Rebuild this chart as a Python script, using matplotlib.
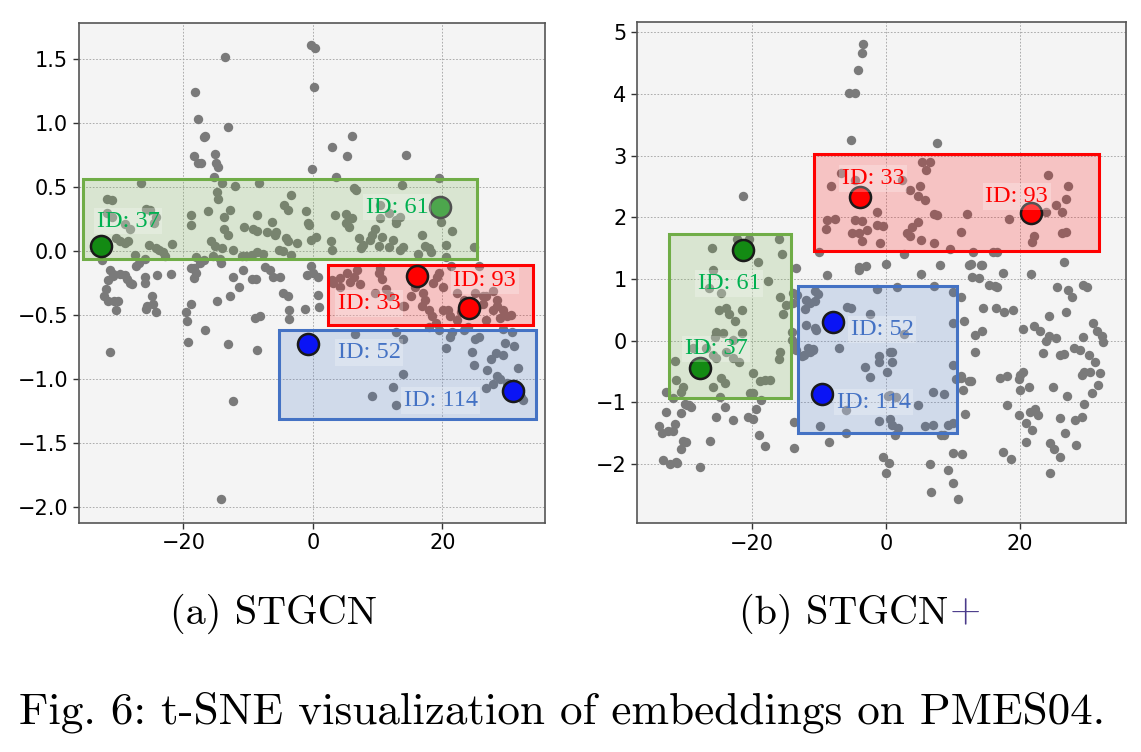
import matplotlib
matplotlib.use('Agg')
import matplotlib.pyplot as plt
from matplotlib.patches import Rectangle

# ---------------- (a) STGCN ----------------
a_x = [-13.6, -0.3, 0.3, 0.1, -18.2, -17.7, -16.9, -16.7, -13.2, -18.4, -17.7, -17.3, -15.2, -15.0, -14.6, -15.3,
       -0.2, 2.9, 6.0, 5.3, 3.5, 14.3, 19.5, -26.5, -14.0, -12.1, -8.3, 6.3, 6.6, 13.7, -31.8, -31.1, -14.8, -14.6,
       -3.4, -4.4, -3.9, -12.8, -16.2, -18.9, -18.9, -13.7, -8.7, -6.3, -1.1, -0.8, -0.6, 3.4, 5.1, 5.5, 6.0, 5.1,
       5.6, 10.4, 10.4, 11.8, 12.9, 13.4, 12.8, 19.8, 21.5, -25.8, -25.2, -24.6, -24.3, -29.0, -28.2, -31.8, -31.0,
       -10.7, -13.7, -13.2, -9.3, -8.7, -7.1, -5.7, -5.8, -4.1, -3.9, -2.5, -0.3, 0.4, 2.8, 3.0, 7.1, 7.7, 7.4, 9.1,
       9.6, 8.8, 10.7, 10.2, 12.3, 11.7, 13.9, 13.5, 16.8, 16.2, 17.3, 17.9, 18.3, 20.5, 24.9, 20.6, 21.3, 25.6,
       -30.4, -29.8, -29.0, -28.6, -25.3, -24.3, -23.8, -23.1, -22.8, -21.8, -27.5, -26.0, -32.6, -15.8, -15.2,
       -14.1, -15.4, -18.1, -17.4, -16.9, -12.4, -11.0, -10.3, -9.4, -8.6, -7.7, -5.3, -4.7, -3.4,
       -31.4, -30.9, -31.7, -30.9, -29.8, -29.1, -28.8, -28.3, -27.9, -32.0, -32.2, -31.7, -30.7, -30.1, -30.5,
       -27.3, -26.8, -25.9, -25.9, -24.1, -22.0, -24.8, -24.7, -25.6, -25.8, -24.3, -18.9, -18.4, -18.4, -18.1,
       -18.9, -19.6, -19.5, -14.4, -14.2, -12.4, -10.8, -12.8, -11.4, -14.8, -8.8, -7.4, -6.7, -6.1, -5.1, -4.6,
       -3.8, -8.9, -8.2, -9.4,
       -31.3, -19.3, -16.6, -13.1, -12.4, -14.2, -8.6, -3.7, -3.7, -1.3, 0.7, 0.9, -0.9, 0.0, 0.7, -0.3,
       6.5, 12.8, 13.9, 13.9, 12.3, 9.1, 12.8,
       3.0, 4.1, 5.2, 5.7, 6.3, 6.8, 4.2, 3.1, 7.3, 10.2, 10.7, 11.3, 9.6, 10.3, 11.9, 13.9, 14.0, 15.1, 15.7,
       16.5, 17.0, 17.3, 16.8, 17.9, 18.4, 19.0, 19.5, 20.1, 20.9, 21.2, 22.3, 22.8, 23.4, 20.1, 18.6, 19.1,
       22.2, 23.2, 25.3, 26.3, 28.4, 29.4, 25.1, 26.2, 26.7, 27.8, 28.9, 30.0, 30.6, 27.8, 28.4, 26.7,
       23.9, 25.6, 25.1, 20.6, 21.2, 21.5, 24.6, 24.8, 26.9, 27.5, 28.3, 29.4, 29.7, 31.1, 31.6, 29.4, 30.8,
       28.4, 28.9, 30.0, 31.1, 31.9, 32.2, 32.5, 26.7, 27.8, 19.5, 17.9, 23.4]
a_y = [1.52, 1.61, 1.59, 1.28, 1.24, 1.03, 0.89, 0.90, 0.97, 0.74, 0.69, 0.69, 0.755, 0.69, 0.66, 0.58,
       0.64, 0.815, 0.90, 0.74, 0.58, 0.75, 0.57, 0.53, 0.53, 0.51, 0.53, 0.49, 0.48, 0.52, 0.41, 0.40, 0.46, 0.41,
       0.44, 0.36, 0.32, 0.32, 0.31, 0.28, 0.20, 0.27, 0.28, 0.23, 0.31, 0.22, 0.20, 0.28, 0.29, 0.25, 0.26, 0.22,
       0.19, 0.36, 0.26, 0.30, 0.245, 0.27, 0.22, 0.23, 0.16, 0.33, 0.32, 0.22, 0.27, 0.21, 0.17, 0.30, 0.27,
       0.19, 0.17, 0.125, 0.17, 0.16, 0.15, 0.15, 0.125, 0.10, 0.08, 0.06, 0.09, 0.11, 0.08, 0.01, 0.10, 0.05, 0.02, 0.125,
       0.17, 0.09, 0.11, 0.04, 0.09, 0.03, 0.03, 0.01, 0.125, -0.02, 0.04, 0.02, -0.01, 0.05, 0.03, -0.05, -0.12, -0.12,
       0.10, 0.08, 0.06, 0.08, 0.05, 0.02, 0.005, -0.01, -0.04, 0.055, -0.03, -0.06, -0.07, 0.08, 0.04,
       0.02, -0.04, -0.05, -0.09, -0.07, 0.005, -0.04, -0.04, -0.03, -0.01, -0.02, 0.01, 0.0, -0.03,
       -0.146, -0.198, -0.23, -0.18, -0.18, -0.19, -0.22, -0.25, -0.255, -0.30, -0.355, -0.39, -0.39, -0.39, -0.46,
       -0.12, -0.09, -0.20, -0.25, -0.19, -0.18, -0.355, -0.41, -0.43, -0.45, -0.48, -0.13, -0.13, -0.21, -0.17,
       -0.41, -0.48, -0.55, -0.06, -0.09, -0.20, -0.15, -0.355, -0.28, -0.39, -0.22, -0.125, -0.146, -0.20, -0.20, -0.33,
       -0.35, -0.52, -0.51, -0.22,
       -0.79, -0.71, -0.62, -0.73, -1.17, -1.94, -0.77, -0.46, -0.53, -0.45, -0.34, -0.44, -0.185, -0.17, -0.20, -0.12,
       -0.65, -0.636, -0.69, -0.96, -1.065, -1.13, -1.20,
       -0.225, -0.21, -0.17, -0.24, -0.20, -0.146, -0.28, -0.25, -0.26, -0.17, -0.22, -0.30, -0.33, -0.13, -0.35, -0.43, -0.43, -0.35, -0.28,
       -0.22, -0.33, -0.38, -0.43, -0.46, -0.51, -0.56, -0.17, -0.28, -0.46, -0.51, -0.54, -0.48, -0.38, -0.46, -0.25, -0.20,
       -0.33, -0.41, -0.43, -0.355, -0.43, -0.46, -0.33, -0.41, -0.54, -0.46, -0.52, -0.51, -0.50, -0.31, -0.38, -0.35,
       -0.59, -0.67, -0.69, -0.76, -0.67, -0.63, -0.79, -0.89, -0.93, -0.84, -0.80, -0.81, -0.72, -0.745, -0.91, -0.61, -0.63,
       -0.98, -1.0, -1.03, -1.04, -1.08, -1.14, -1.16, -1.07, -1.04, -0.615, -0.59, -0.615]

a_ids = ['ID: 37', 'ID: 61', 'ID: 33', 'ID: 93', 'ID: 52', 'ID: 114']
a_hx = [-32.8, 19.6, 16.1, 24.1, -0.8, 30.85]
a_hy = [0.04, 0.344, -0.193, -0.445, -0.724, -1.097]
a_lx = [-33.4, 8.2, 3.8, 21.7, 3.8, 14.0]
a_ly = [0.19, 0.30, -0.453, -0.276, -0.836, -1.21]
a_boxes = [(-35.5, -0.0625, 25.4, 0.5625), (2.3, -0.576, 34.05, -0.107), (-5.3, -1.31, 34.5, -0.615)]

# ---------------- (b) STGCN+ ----------------
b_x = [-3.4, -3.6, -4.2, -5.6, -4.6, -5.2, 7.6, -21.4, 5.4, 6.6, 5.9, -6.8, -4.6, -8.2, 2.3, 3.6, 5.1, 4.7, 5.8,
       -1.3, 7.1, 7.6, 12.0, 18.3, -8.8, -7.7, -4.7, -3.6, -9.0, -0.5, -2.9, -5.1, -4.1, -3.6, -0.9, 4.7, 3.9, 3.1,
       3.6, 5.2, 7.1, 11.1, 24.2, 27.1, 26.8, 25.4, 23.9, 26.2, 22.0, 21.7, 26.2, 26.9, 26.5,
       -10.1, 2.6, 9.5, 13.0, 15.9, 16.6, -0.1, 8.1, 12.3, 14.1, -4.1, -3.0, -1.4,
       -26.0, -22.2, -20.5, -19.2, -16.0, -15.6, -13.4, -25.9, -26.4, -24.6, -17.6, -15.9, -14.9, -15.4, -8.9, -4.0,
       -13.9, -24.9, -23.9, -23.4, -22.6, -21.5, -25.4, -24.4, -25.6, -21.5, -22.9, -26.9, -25.9, -25.4, -23.9,
       -22.9, -21.9, -28.9, -31.6, -31.4, -30.3, -25.9, -24.6, -24.1, -19.9, -18.9, -18.1, -17.4, -15.9, -16.0,
       -13.3, -13.9, -11.9, -11.4, -10.7, -10.2, -10.6, -14.0, -13.7, -13.4, -12.6, -19.9,
       -12.1, -10.5, -11.0, -11.3, -7.0, -11.9, -10.7, -14.1, -11.7, -10.9, -12.3, -5.9, -5.3,
       -1.4, 1.65, 7.1, 10.0, 11.1, 10.0, 11.6, -2.4, 2.6, -1.0, -1.0, 0.8, 0.6, -3.1, -2.4, 0.05, 10.0, 10.4,
       11.2, 12.4, 11.4, 7.0, 8.7, 4.7, 0.3, -6.0, -1.0, 0.6, 0.8, 1.8, -9.9, -6.0, -8.6, -13.7, -13.7, 5.8, 7.0,
       9.2, 10.0, 8.2, 8.7, 11.8, -0.5, 0.4, -0.1, 6.5, 9.2, 10.0, 10.7, 6.7, 10.0, 11.3, 0.85, 1.5, 0.55, 1.3,
       -32.9, -31.8, -30.6, -29.8, -29.2, -32.9, -30.6, -31.6, -33.9, -33.4, -32.6, -31.8, -30.3, -29.9, -30.7,
       -33.3, -32.3, -31.4, -31.2, -27.8, -26.3, -25.4, -24.1, -24.8, -20.4, -22.9, -20.6, -19.9, -19.4, -18.7,
       -19.0, -18.1, -30.0, -29.4,
       12.6, 14.3, 12.8, 13.9, 17.4, 21.6, 5.2, 15.3, 16.3, 16.6, 25.5, 27.1, 27.8, 29.4, 30.0, 14.5, 16.4, 17.6,
       18.9, 24.3, 26.8, 20.4, 22.0, 23.0, 23.8, 24.3, 25.3, 26.0, 26.6, 13.3, 14.3, 13.2, 28.0, 29.0, 29.6, 30.5,
       29.3, 29.4, 11.1, 12.6, 17.0, 18.0, 20.0, 20.4, 19.8, 21.3, 20.0, 24.9, 27.0, 23.4,
       30.8, 31.4, 32.2, 32.4, 30.3, 31.1, 31.9, 31.6, 30.7, 29.6,
       18.0, 19.9, 20.9, 21.7, 20.9, 21.4, 22.2, 22.7, 17.5, 18.6, 24.4, 25.1, 25.9, 24.5, 25.9, 26.7, 28.2, 28.4, 29.2]
b_y = [4.81, 4.67, 4.38, 4.02, 4.02, 3.26, 3.20, 2.35, 2.90, 2.90, 2.76, 2.72, 2.60, 2.51, 2.60, 2.45, 2.51, 2.345, 2.28,
       2.08, 2.05, 2.04, 2.05, 1.97, 1.96, 1.97, 1.96, 1.94, 1.81, 1.86, 1.79, 1.75, 1.74, 1.62, 1.58, 1.93, 1.84, 1.74,
       1.70, 1.63, 1.59, 1.76, 2.69, 2.51, 2.29, 2.20, 2.08, 2.08, 1.69, 1.60, 1.75, 1.76, 1.27,
       1.43, 1.405, 1.48, 1.43, 1.44, 1.44, 1.24, 1.22, 1.23, 1.22, 1.19, 1.21, 1.875,
       1.51, 1.65, 1.64, 1.28, 1.65, 1.41, 1.17, 1.15, 0.85, 0.78, 0.97, 0.71, 0.58, 0.44, 1.065, 1.15,
       0.77, 0.50, 0.525, 0.43, 0.32, 0.50, 0.146, 0.12, 0.065, 0.12, 0.01, -0.12, -0.23, -0.285, -0.18,
       -0.285, -0.34, -0.12, -0.33, -0.64, -0.745, -0.745, -0.61, -0.69, -0.53, -0.66, -0.64, -0.64, -0.18, -0.30,
       0.74, 0.61, 0.66, 0.61, 0.64, 0.75, 0.805, 0.146, -0.07, -0.15, -0.25, -0.85,
       0.51, 0.17, -0.14, -0.18, -0.12, 0.25, 0.20, 0.01, -0.12, -0.15, -0.23, 0.55, 0.525,
       0.84, 0.87, 0.88, 0.79, 0.70, 0.29, 0.32, 0.44, 0.11, -0.25, -0.345, -0.345, -0.18, -0.43, -0.59, -0.50, -0.39, -0.62,
       -0.61, -0.66, -0.80, -0.83, -0.87, -1.05, -0.89, -1.13, -1.30, -1.27, -1.36, -1.42, -1.38, -1.49, -1.65, -1.32, -1.74, -1.38, -1.37,
       -1.37, -1.34, -1.53, -1.53, -1.19, -1.88, -1.99, -2.15, -2.0, -2.10, -2.30, -2.57, -2.46, -1.82, -1.84, -0.19, -0.91, -0.88, -1.53,
       -0.83, -0.93, -0.83, -1.04, -1.08, -1.15, -1.18, -1.35, -1.38, -1.50, -1.47, -1.47, -1.62, -1.64, -1.76,
       -1.93, -2.0, -1.96, -1.98, -2.05, -1.62, -1.24, -1.08, -0.91, -0.85, -1.28, -1.23, -1.27, -1.10, -0.96,
       -1.53, -1.71, -1.02, -1.04,
       1.25, 1.23, 1.04, 1.01, 1.09, 1.08, 1.075, 0.91, 0.89, 0.875, 0.875, 0.82, 0.71, 0.90, 0.875, 0.525, 0.535, 0.47,
       0.50, 0.405, 0.46, 0.19, 0.24, 0.16, 0.0, 0.08, 0.05, -0.23, -0.22, 0.09, 0.16, -0.18, -0.12, -0.15, -0.50, -0.50,
       -0.56, 0.065, -0.58, -0.66, -0.60, -0.58, -0.56, -0.51, -0.62, -0.745, -0.80, -0.745, -0.89, -0.20,
       0.29, 0.16, 0.075, -0.02, -0.23, -0.34, -0.52, -0.72, -0.85, -1.03,
       -1.04, -1.20, -1.34, -1.44, -1.65, -1.15, -1.10, -1.20, -1.81, -1.91, -1.66, -1.76, -1.89, -2.15, -1.26, -1.50, -1.29, -1.69, -1.23]

b_ids = ['ID: 37', 'ID: 61', 'ID: 33', 'ID: 93', 'ID: 52', 'ID: 114']
b_hx = [-27.75, -21.4, -3.84, 21.6, -7.92, -9.55]
b_hy = [-0.447, 1.465, 2.334, 2.065, 0.298, -0.864]
b_lx = [-30.1, -28.1, -6.6, 14.8, -5.3, -7.4]
b_ly = [-0.22, 0.84, 2.54, 2.25, 0.09, -1.085]
b_boxes = [(-32.4, -0.93, -14.2, 1.73), (-10.8, 1.46, 31.7, 3.02), (-13.1, -1.49, 10.6, 0.887)]

box_colors = ['#70ad47', '#ff0000', '#4472c4']
text_colors = ['#00b050', '#00b050', '#ff0000', '#ff0000', '#4472c4', '#4472c4']
point_colors = ['#138a13', '#138a13', '#ff0000', '#ff0000', '#0a14f5', '#0a14f5']


def draw_panel(ax, px, py, hx, hy, ids, lx, ly, boxes, xlim, ylim, yticks, light61=False):
    ax.set_facecolor('#f4f4f4')
    ax.grid(True, color='#a0a0a0', linestyle='--', linewidth=0.6, dashes=(2, 2))
    ax.set_axisbelow(True)
    ax.scatter(px, py, s=46, color='#7a7a7a', linewidths=0, zorder=2)
    for (x0, y0, x1, y1), c in zip(boxes, box_colors):
        ax.add_patch(Rectangle((x0, y0), x1 - x0, y1 - y0, facecolor=c, alpha=0.2,
                               edgecolor='none', zorder=3))
        ax.add_patch(Rectangle((x0, y0), x1 - x0, y1 - y0, facecolor='none',
                               edgecolor=c, linewidth=2.2, zorder=4))
    for i in range(len(ids)):
        fc, ec = point_colors[i], '#1a1a1a'
        if light61 and ids[i] == 'ID: 61':
            fc, ec = '#4da64d', '#505050'
        ax.scatter(hx[i], hy[i], s=230, color=fc, edgecolors=ec, linewidths=1.8, zorder=6)
        ax.text(lx[i], ly[i], ids[i], color=text_colors[i], fontsize=17.5,
                family='Liberation Serif', ha='left', va='baseline', zorder=7,
                bbox=dict(facecolor='white', alpha=0.25, edgecolor='none', pad=2))
    ax.set_xlim(*xlim)
    ax.set_ylim(*ylim)
    ax.set_xticks([-20, 0, 20])
    ax.set_yticks(yticks)
    ax.tick_params(labelsize=15, length=4, width=1, color='#333333')
    for sp in ax.spines.values():
        sp.set_color('#555555')
        sp.set_linewidth(1.2)


fig = plt.figure(figsize=(11.41, 7.52), dpi=100)

ax1 = fig.add_axes([78.6 / 1141, 1 - 523 / 752, 466.8 / 1141, 500.5 / 752])
draw_panel(ax1, a_x, a_y, a_hx, a_hy, a_ids, a_lx, a_ly, a_boxes,
           (-36.2, 35.9), (-2.125, 1.786), [-2.0, -1.5, -1.0, -0.5, 0.0, 0.5, 1.0, 1.5], light61=True)

ax2 = fig.add_axes([637 / 1141, 1 - 523.3 / 752, 489 / 1141, 501.6 / 752])
draw_panel(ax2, b_x, b_y, b_hx, b_hy, b_ids, b_lx, b_ly, b_boxes,
           (-37.2, 35.8), (-2.96, 5.17), [-2, -1, 0, 1, 2, 3, 4, 5])

cap = dict(family='cmr10', va='center', color='black')
fig.text(273 / 1141, 1 - 614 / 752, '(a) STGCN', fontsize=29, ha='center', **cap)
fig.text(948 / 1141, 1 - 614 / 752, '(b) STGCN', fontsize=29, ha='right', **cap)
fig.text(950 / 1141, 1 - 612 / 752, '+', fontsize=29, ha='left', family='cmr10', va='center', color='#4a3a8a')
fig.text(562 / 1141, 1 - 712 / 752, 'Fig. 6: t-SNE visualization of embeddings on PMES04.', fontsize=32.5,
         ha='center', **cap)

fig.savefig('out.png', dpi=100)
